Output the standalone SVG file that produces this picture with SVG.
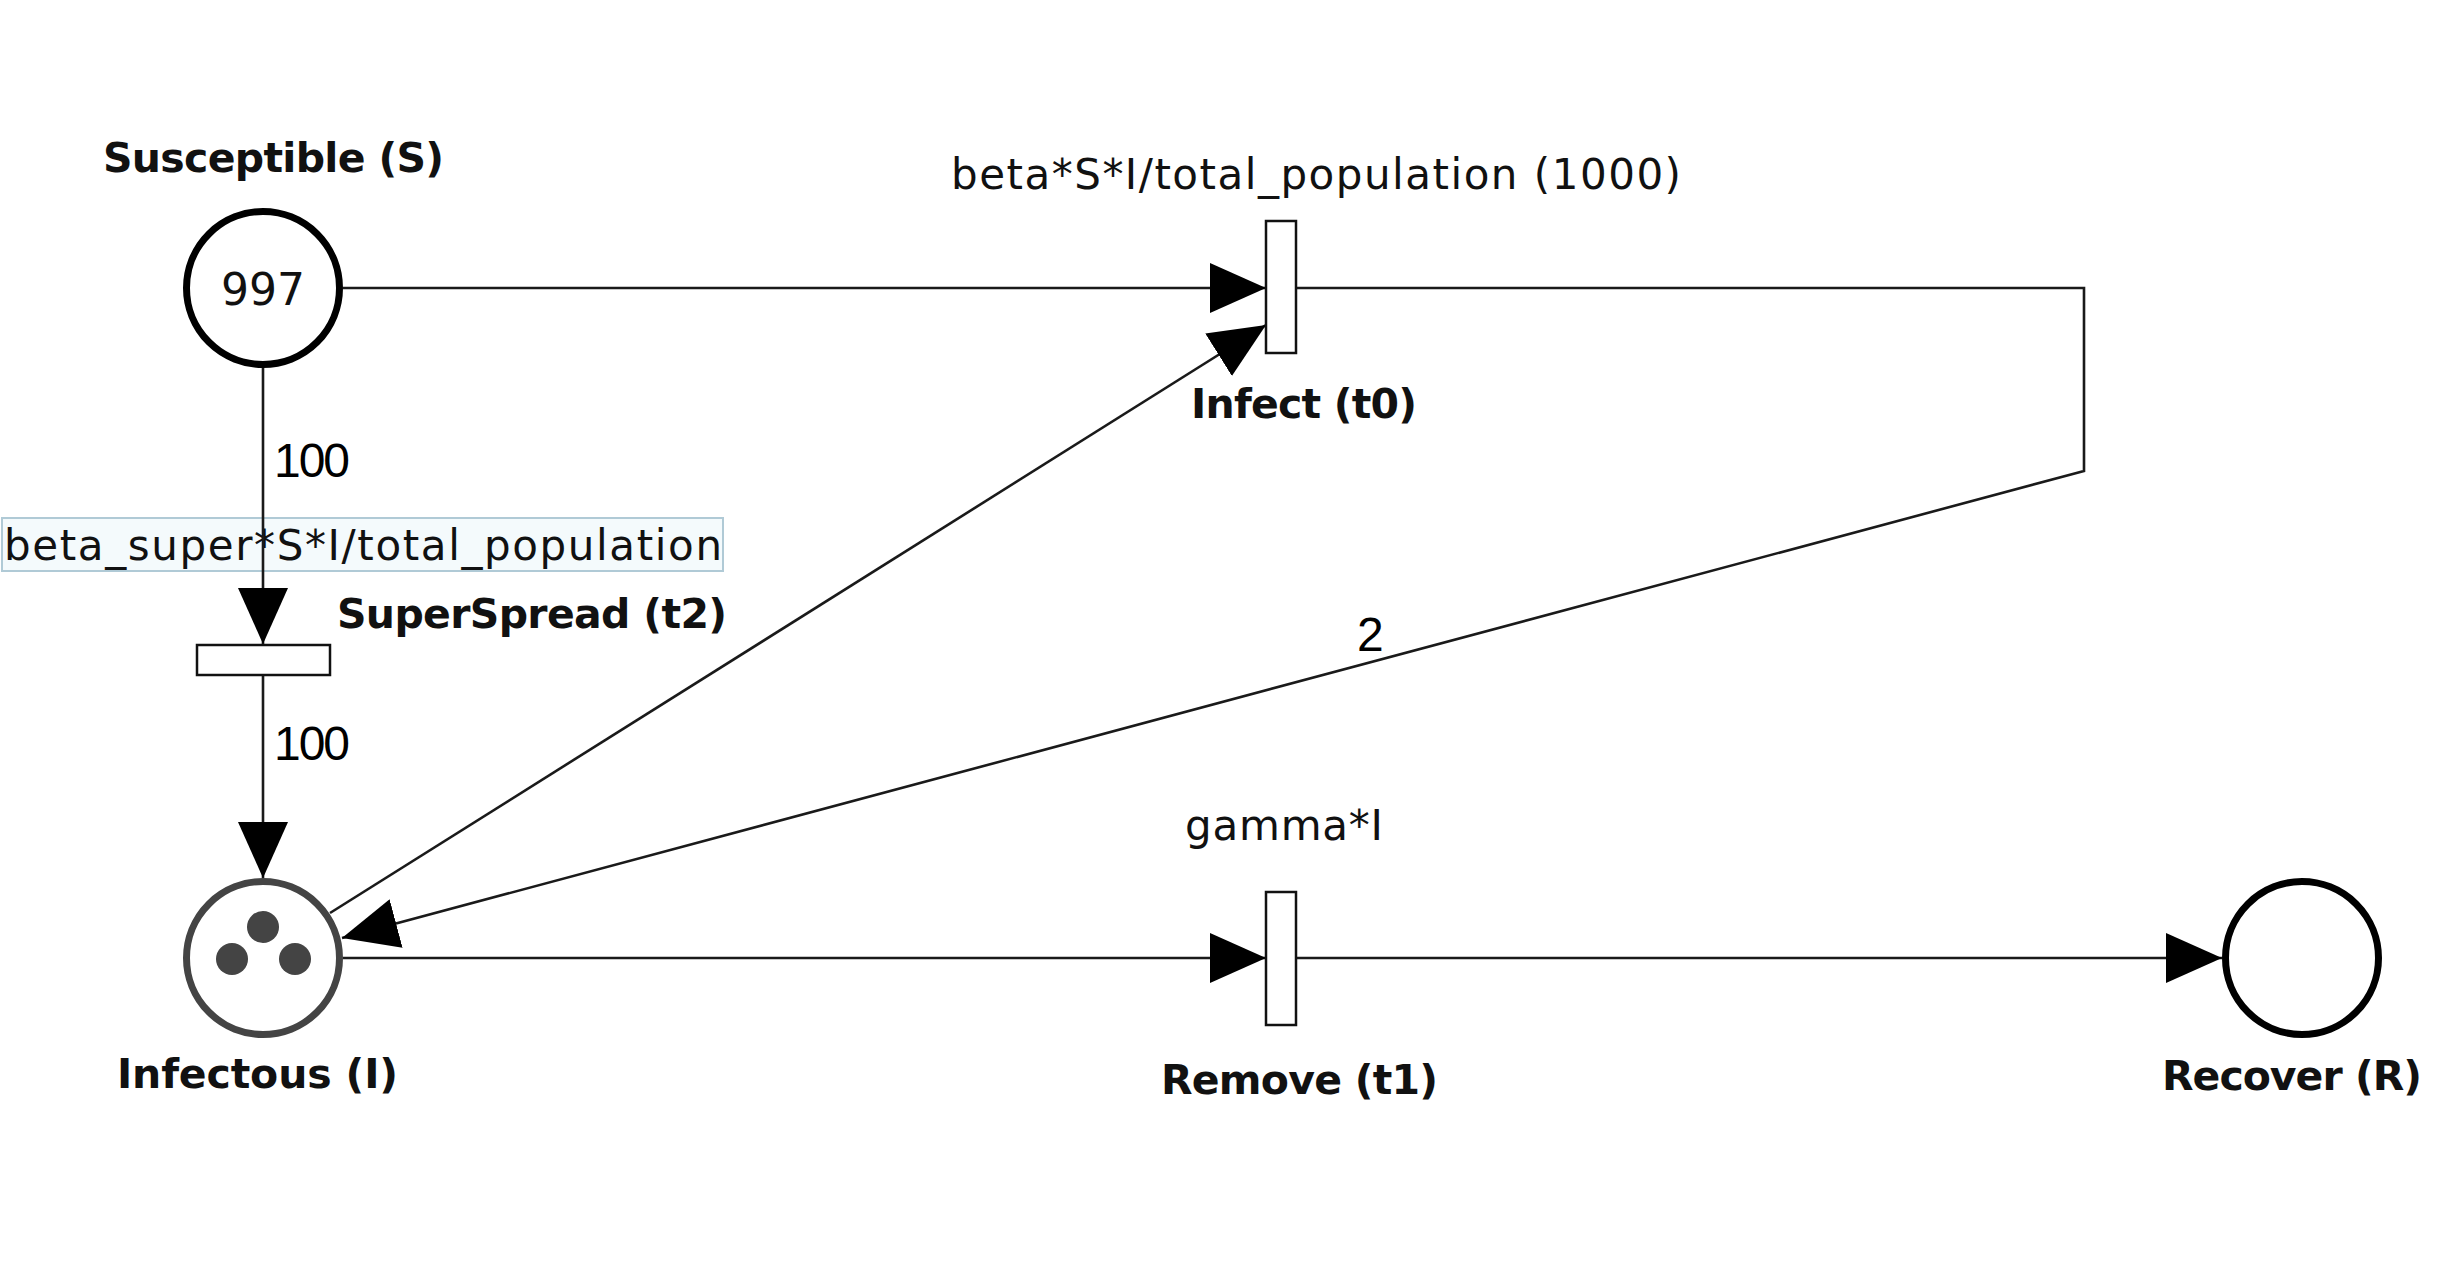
<svg xmlns="http://www.w3.org/2000/svg" width="2452" height="1264" viewBox="0 0 2452 1264">
<style>
.lbl{font-family:"DejaVu Sans","Liberation Sans",sans-serif;font-size:42px;fill:#111}
.bold{font-family:"DejaVu Sans","Liberation Sans",sans-serif;font-size:41px;font-weight:bold;fill:#111}
.num{font-family:"Liberation Sans",Arial,sans-serif;font-size:48px;fill:#000}
.edge{fill:none;stroke:#1a1a1a;stroke-width:2.6}
.place{fill:#fff;stroke:#000;stroke-width:7}
.trans{fill:#fff;stroke:#111;stroke-width:2.5}
.tok{fill:#444}
</style>
<defs>
<marker id="arr" markerUnits="userSpaceOnUse" viewBox="0 0 56 50" refX="56" refY="25" markerWidth="56" markerHeight="50" orient="auto">
<path d="M0,0 L56,25 L0,50 Z" fill="#000"/>
</marker>
</defs>
<rect width="2452" height="1264" fill="#fff"/>
<g id="rate-box-t2">
<rect x="2" y="518" width="721" height="53" fill="#f4fafc" stroke="#b0cad6" stroke-width="2"/>
<text class="lbl" x="4" y="560" textLength="718">beta_super*S*I/total_population</text>
</g>
<g id="connectors">
<path class="edge" d="M343,288 H1266" marker-end="url(#arr)"/>
<path class="edge" d="M263,367 V644" marker-end="url(#arr)"/>
<path class="edge" d="M263,675 V878" marker-end="url(#arr)"/>
<path class="edge" d="M330,913 L1266,325" marker-end="url(#arr)"/>
<path class="edge" d="M1296,288 H2084 V471 L342,938" marker-end="url(#arr)"/>
<path class="edge" d="M343,958 H1266" marker-end="url(#arr)"/>
<path class="edge" d="M1296,958 H2222" marker-end="url(#arr)"/>
<text class="num" x="274" y="477" textLength="76">100</text>
<text class="num" x="274" y="760" textLength="76">100</text>
<text class="num" x="1357" y="651">2</text>
</g>
<g id="place-S">
<circle class="place" cx="263" cy="288" r="76.5"/>
<text class="lbl" x="263" y="305" text-anchor="middle" style="font-size:44px">997</text>
<text class="bold" x="103" y="172" textLength="341">Susceptible (S)</text>
</g>
<g id="place-I">
<circle class="place" cx="263" cy="958" r="76.5" style="stroke:#444"/>
<circle class="tok" cx="263" cy="927" r="16"/>
<circle class="tok" cx="232" cy="959" r="16"/>
<circle class="tok" cx="295" cy="959" r="16"/>
<text class="bold" x="117" y="1088" textLength="281">Infectous (I)</text>
</g>
<g id="place-R">
<circle class="place" cx="2302" cy="958" r="76.5"/>
<text class="bold" x="2162" y="1090" textLength="260">Recover (R)</text>
</g>
<g id="trans-t0">
<rect class="trans" x="1266" y="221" width="30" height="132"/>
<text class="lbl" x="951" y="189" textLength="730">beta*S*I/total_population (1000)</text>
<text class="bold" x="1191" y="418" textLength="226">Infect (t0)</text>
</g>
<g id="trans-t1">
<rect class="trans" x="1266" y="892" width="30" height="133"/>
<text class="lbl" x="1185" y="840" textLength="198">gamma*I</text>
<text class="bold" x="1161" y="1094" textLength="277">Remove (t1)</text>
</g>
<g id="trans-t2">
<rect class="trans" x="197" y="645" width="133" height="30"/>
<text class="bold" x="337" y="628" textLength="390">SuperSpread (t2)</text>
</g>
</svg>
